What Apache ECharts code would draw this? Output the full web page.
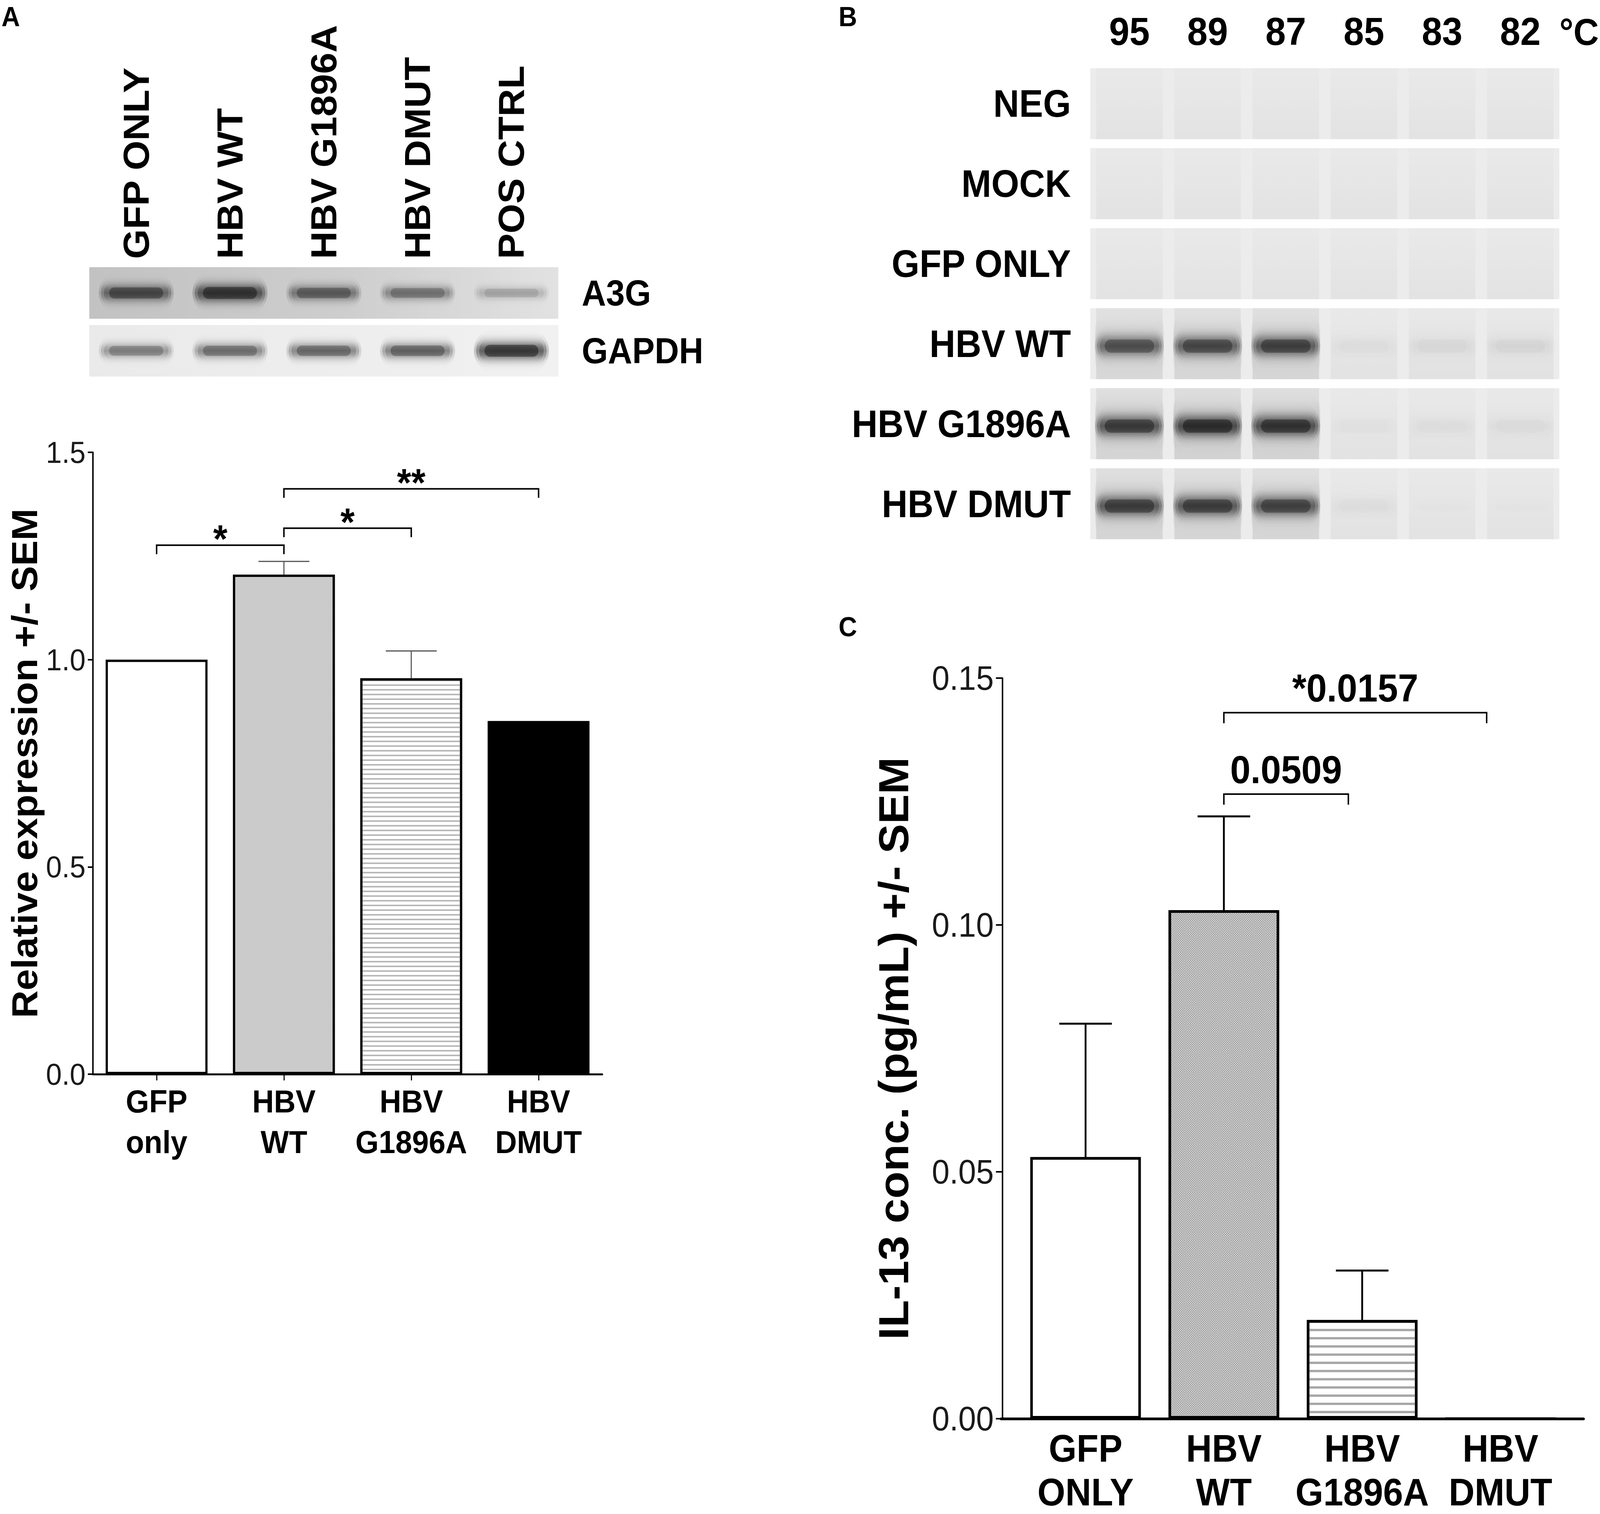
<!DOCTYPE html>
<html>
<head>
<meta charset="utf-8">
<script src="https://cdn.jsdelivr.net/npm/echarts/dist/echarts.min.js"></script>
<style>
html, body { margin: 0; padding: 0; background: #fff; overflow: hidden; }
#app { width: 4373px; height: 3876px; transform-origin: 0 0; }
</style>
</head>
<body>
<div id="app"></div>
<script>
// ---- data ----
var blotLanes = ['GFP ONLY', 'HBV WT', 'HBV G1896A', 'HBV DMUT', 'POS CTRL'];
var blotProteins = ['A3G', 'GAPDH'];
var a3gBands = [0.8, 1.0, 0.66, 0.52, 0.26];
var gapdhBands = [0.5, 0.6, 0.64, 0.68, 1.0];

var gelTemps = ['95', '89', '87', '85', '83', '82'];
var gelSamples = ['NEG', 'MOCK', 'GFP ONLY', 'HBV WT', 'HBV G1896A', 'HBV DMUT'];
var gelBands = [
    [0, 0, 0, 0, 0, 0],
    [0, 0, 0, 0, 0, 0],
    [0, 0, 0, 0, 0, 0],
    [0.7, 0.76, 0.82, 0.03, 0.05, 0.06],
    [0.86, 1.0, 0.94, 0.02, 0.03, 0.04],
    [0.84, 0.84, 0.8, 0.03, 0.01, 0.01]
];

var exprGroups = ['GFP\nonly', 'HBV\nWT', 'HBV\nG1896A', 'HBV\nDMUT'];
var exprMean = [1.0, 1.205, 0.955, 0.852];
var exprSem = [0, 0.032, 0.066, 0];
var exprSig = [[0, 1, 1.276, '*'], [1, 2, 1.317, '*'], [1, 3, 1.412, '**']];

var il13Groups = ['GFP\nONLY', 'HBV\nWT', 'HBV\nG1896A', 'HBV\nDMUT'];
var il13Mean = [0.053, 0.103, 0.020, 0];
var il13Sem = [0.027, 0.019, 0.010, 0];
var il13Sig = [[1, 2, 0.1265, '0.0509'], [1, 3, 0.143, '*0.0157']];

var FONT = '"Liberation Sans", Arial, sans-serif';
var W = 4373, H = 3876;

// stretch the 4373x3876 drawing over the viewport the browser really gives
var app = document.getElementById('app');
app.style.transform = 'scale(' + (window.innerWidth / W) + ',' + (window.innerHeight / H) + ')';

// ---- drawing helpers ----
var PROFILE = [[0, 0], [0.12, 0.08], [0.26, 0.36], [0.38, 0.78], [0.5, 1], [0.62, 0.78], [0.74, 0.36], [0.88, 0.08], [1, 0]];

function soft(rgb, peak) {
    return new echarts.graphic.LinearGradient(0, 0, 0, 1, PROFILE.map(function (s) {
        return { offset: s[0], color: 'rgba(' + rgb + ',' + (s[1] * peak).toFixed(3) + ')' };
    }));
}

// a blurred band built from nested soft rectangles, the core one also blurred by a shadow
function bandShape(cx, cy, w, h, dark) {
    var out = [];
    [[1.0, 1.25, 0.2], [0.94, 1.0, 0.3], [0.86, 0.8, 0.3]].forEach(function (f) {
        var bw = w * f[0], bh = h * f[1];
        out.push({ type: 'rect', shape: { x: cx - bw / 2, y: cy - bh / 2, width: bw, height: bh, r: bh / 2 },
                   style: { fill: soft('12,12,12', f[2] * dark) } });
    });
    var cw = w * 0.72, ch = h * 0.34;
    out.push({ type: 'rect', shape: { x: cx - cw / 2, y: cy - ch / 2, width: cw, height: ch, r: ch / 2 },
               style: { fill: 'rgba(12,12,12,' + (0.4 * dark).toFixed(3) + ')',
                        shadowBlur: 22, shadowColor: 'rgba(12,12,12,' + (0.4 * dark).toFixed(3) + ')' } });
    return out;
}

function stripRenderer(gap, fills) {
    return function (params, api) {
        var cs = params.coordSys;
        var row = api.value(1);
        var c = api.coord([0, row]);
        var h = api.size([0, 1])[1];
        return {
            type: 'rect',
            shape: { x: cs.x, y: c[1] - h / 2 + gap / 2, width: cs.width, height: h - gap },
            style: { fill: fills[row] }
        };
    };
}

function blotBandRenderer(params, api) {
    var c = api.coord([api.value(0), api.value(1)]);
    var dark = api.value(2);
    var laneW = api.size([1, 0])[0];
    return { type: 'group', children: bandShape(c[0], c[1], laneW * 0.8, 56 + 34 * dark, dark) };
}

function gelCellRenderer(params, api) {
    var c = api.coord([api.value(0), api.value(1)]);
    var dark = api.value(2);
    var sz = api.size([1, 1]);
    var laneW = sz[0], rowH = sz[1];
    var top = c[1] - rowH / 2 + 11.5, h = rowH - 23;
    var children = [{
        type: 'rect',
        shape: { x: c[0] - laneW / 2 + 16, y: top, width: laneW - 32, height: h },
        style: { fill: new echarts.graphic.LinearGradient(0, 0, 0, 1, [
            { offset: 0, color: 'rgba(0,0,0,' + (0.012 + 0.05 * dark).toFixed(3) + ')' },
            { offset: 1, color: 'rgba(0,0,0,' + (0.04 + 0.07 * dark).toFixed(3) + ')' }
        ]) }
    }];
    if (dark > 0) {
        // wide smear trailing below the band, then the band itself
        children.push({ type: 'rect', shape: { x: c[0] - laneW * 0.44, y: top + 10, width: laneW * 0.88, height: h - 14, r: 40 },
                        style: { fill: soft('40,40,40', 0.2 * dark) } });
        children = children.concat(bandShape(c[0], c[1] + 6, laneW * 0.88, 100, dark));
    }
    return { type: 'group', children: children };
}

function errorRenderer(capRatio, lineW, color) {
    return function (params, api) {
        var i = api.value(0), m = api.value(1), s = api.value(2);
        if (!(s > 0)) return null;
        var p0 = api.coord([i, m]), p1 = api.coord([i, m + s]);
        var half = api.size([1, 0])[0] * capRatio;
        var st = { stroke: color, lineWidth: lineW };
        return { type: 'group', children: [
            { type: 'line', shape: { x1: p0[0], y1: p0[1], x2: p1[0], y2: p1[1] }, style: st },
            { type: 'line', shape: { x1: p1[0] - half, y1: p1[1], x2: p1[0] + half, y2: p1[1] }, style: st }
        ] };
    };
}

function bracketRenderer(sig, o) {
    return function (params, api) {
        var b = sig[params.dataIndex];
        var pL = api.coord([b[0], b[2]]), pR = api.coord([b[1], b[2]]);
        var bw = api.size([1, 0])[0];
        var xl = pL[0], xr = pR[0] - bw * o.insetR, y = pL[1];
        return { type: 'group', children: [
            { type: 'polyline', shape: { points: [[xl, y + o.drop], [xl, y], [xr, y], [xr, y + o.drop]] },
              style: { stroke: '#000', lineWidth: o.lw, fill: null } },
            { type: 'text', x: (xl + xr) / 2, y: y + o.textDy,
              style: { text: b[3], fontSize: o.fs, fontWeight: 'bold', fontFamily: FONT, fill: '#000',
                       align: 'center', verticalAlign: 'middle' } }
        ] };
    };
}

// ---- bar fills ----
var stippleA = { symbol: 'rect', symbolSize: 1, dashArrayX: [[2, 2], [0, 2, 2, 0]], dashArrayY: [2, 0], color: '#b6b6b6' };
var stripeA = { symbol: 'rect', symbolSize: 1, dashArrayX: [10, 0], dashArrayY: [4, 8], color: '#b8b8b8' };
var stippleC = { symbol: 'rect', symbolSize: 1, dashArrayX: [[3, 3], [0, 3, 3, 0]], dashArrayY: [3, 0], color: '#9a9a9a' };
var stripeC = { symbol: 'rect', symbolSize: 1, dashArrayX: [10, 0], dashArrayY: [6, 15], color: '#a8a8a8' };

var exprStyles = [
    { color: '#fff', borderColor: '#000', borderWidth: 6 },
    { color: '#e0e0e0', borderColor: '#000', borderWidth: 6, decal: stippleA },
    { color: '#fff', borderColor: '#000', borderWidth: 6, decal: stripeA },
    { color: '#000', borderColor: '#000', borderWidth: 6 }
];
var il13Styles = [
    { color: '#fff', borderColor: '#000', borderWidth: 7 },
    { color: '#d8d8d8', borderColor: '#000', borderWidth: 7, decal: stippleC },
    { color: '#fff', borderColor: '#000', borderWidth: 7, decal: stripeC },
    { color: '#fff', borderColor: '#000', borderWidth: 7 }
];

function cellData(rows) {
    var out = [];
    rows.forEach(function (r, ri) {
        r.forEach(function (v, li) { out.push([li, ri, v]); });
    });
    return out;
}

var boldLabel = { fontFamily: FONT, fontWeight: 'bold', color: '#000' };
function ext(a, b) { return Object.assign({}, a, b); }

var chart = echarts.init(app, null, { renderer: 'svg', width: W, height: H });

var option = {
    animation: false,
    backgroundColor: '#fff',
    textStyle: { fontFamily: FONT },
    title: [
        { text: 'A', left: 4, top: 8, padding: 0, textStyle: { fontSize: 70, fontWeight: 'bold', fontFamily: FONT, color: '#000' } },
        { text: 'B', left: 2292, top: 8, padding: 0, textStyle: { fontSize: 70, fontWeight: 'bold', fontFamily: FONT, color: '#000' } },
        { text: 'C', left: 2292, top: 1570, padding: 0, textStyle: { fontSize: 70, fontWeight: 'bold', fontFamily: FONT, color: '#000' } }
    ],
    grid: [
        { left: 244, top: 676, width: 1282, height: 296, containLabel: false, outerBoundsMode: 'none' },
        { left: 2980, top: 163, width: 1282, height: 1229, containLabel: false, outerBoundsMode: 'none' },
        { left: 254, top: 1158, width: 1392, height: 1592, containLabel: false, outerBoundsMode: 'none' },
        { left: 2778, top: 1736, width: 1512, height: 1896, containLabel: false, outerBoundsMode: 'none' },
        { left: 2736, top: 1736, width: 1592, height: 1896, containLabel: false, outerBoundsMode: 'none' }
    ],
    xAxis: [
        { gridIndex: 0, type: 'category', position: 'top', data: blotLanes,
          axisLine: { show: false }, axisTick: { show: false }, splitLine: { show: false },
          axisLabel: ext(boldLabel, { interval: 0, rotate: -90, fontSize: 98, margin: 13 }) },
        { gridIndex: 1, type: 'category', position: 'top', data: gelTemps,
          axisLine: { show: false }, axisTick: { show: false }, splitLine: { show: false },
          axisLabel: ext(boldLabel, { interval: 0, fontSize: 100, margin: 33 }),
          name: '°C', nameLocation: 'end', nameGap: 0,
          nameTextStyle: ext(boldLabel, { fontSize: 96, verticalAlign: 'bottom', padding: [0, 0, 33, 0] }) },
        { gridIndex: 2, type: 'category', data: exprGroups,
          axisLine: { show: true, lineStyle: { color: '#000', width: 5 } },
          axisTick: { show: true, alignWithLabel: true, length: 16, lineStyle: { color: '#000', width: 3 } },
          splitLine: { show: false },
          axisLabel: ext(boldLabel, { interval: 0, fontSize: 82, lineHeight: 104, margin: 18 }) },
        { gridIndex: 3, type: 'category', data: il13Groups,
          axisLine: { show: false }, axisTick: { show: false }, splitLine: { show: false },
          axisLabel: ext(boldLabel, { interval: 0, fontSize: 98, lineHeight: 112, margin: 20 }) },
        { gridIndex: 4, type: 'value', min: 0, max: 1,
          axisLine: { show: true, lineStyle: { color: '#000', width: 7 } },
          axisTick: { show: false }, axisLabel: { show: false }, splitLine: { show: false } }
    ],
    yAxis: [
        { gridIndex: 0, type: 'category', position: 'right', inverse: true, data: blotProteins,
          axisLine: { show: false }, axisTick: { show: false }, splitLine: { show: false },
          axisLabel: ext(boldLabel, { fontSize: 92, margin: 64 }) },
        { gridIndex: 1, type: 'category', inverse: true, data: gelSamples,
          axisLine: { show: false }, axisTick: { show: false }, splitLine: { show: false },
          axisLabel: ext(boldLabel, { fontSize: 98, margin: 53 }) },
        { gridIndex: 2, type: 'value', min: 0, max: 1.5, interval: 0.5,
          axisLine: { show: true, lineStyle: { color: '#000', width: 4 } },
          axisTick: { show: true, length: 14, lineStyle: { color: '#000', width: 4 } },
          splitLine: { show: false },
          axisLabel: { fontFamily: FONT, fontSize: 78, color: '#1a1a1a', margin: 20,
                       formatter: function (v) { return v.toFixed(1); } },
          name: 'Relative expression +/- SEM', nameLocation: 'middle', nameGap: 138,
          nameTextStyle: ext(boldLabel, { fontSize: 98 }) },
        { gridIndex: 3, type: 'value', min: 0, max: 0.15, interval: 0.05, offset: 38,
          axisLine: { show: true, lineStyle: { color: '#000', width: 4 } },
          axisTick: { show: true, length: 18, lineStyle: { color: '#000', width: 4 } },
          splitLine: { show: false },
          axisLabel: { fontFamily: FONT, fontSize: 87, color: '#1a1a1a', margin: 24,
                       formatter: function (v) { return v.toFixed(2); } },
          name: 'IL-13 conc. (pg/mL) +/- SEM', nameLocation: 'middle', nameGap: 240,
          nameTextStyle: ext(boldLabel, { fontSize: 114 }) },
        { gridIndex: 4, type: 'value', min: 0, max: 1, show: false }
    ],
    series: [
        // panel A blot
        { type: 'custom', xAxisIndex: 0, yAxisIndex: 0, silent: true,
          renderItem: stripRenderer(16, [
              new echarts.graphic.LinearGradient(0, 0, 1, 0, [
                  { offset: 0, color: '#c2c2c2' }, { offset: 0.55, color: '#cecece' },
                  { offset: 0.78, color: '#d8d8d8' }, { offset: 1, color: '#e2e2e2' }]),
              new echarts.graphic.LinearGradient(0, 0, 1, 0, [
                  { offset: 0, color: '#eaeaea' }, { offset: 1, color: '#f1f1f1' }])
          ]),
          data: blotProteins.map(function (p, i) { return [0, i]; }) },
        { type: 'custom', xAxisIndex: 0, yAxisIndex: 0, silent: true,
          renderItem: blotBandRenderer,
          data: cellData([a3gBands, gapdhBands]) },
        // panel B gel
        { type: 'custom', xAxisIndex: 1, yAxisIndex: 1, silent: true,
          renderItem: stripRenderer(23, gelSamples.map(function () { return '#ececec'; })),
          data: gelSamples.map(function (s, i) { return [0, i]; }) },
        { type: 'custom', xAxisIndex: 1, yAxisIndex: 1, silent: true,
          renderItem: gelCellRenderer,
          data: cellData(gelBands) },
        // panel A bars
        { type: 'bar', xAxisIndex: 2, yAxisIndex: 2, barCategoryGap: '20%', silent: true,
          data: exprMean.map(function (v, i) { return { value: v, itemStyle: exprStyles[i] }; }) },
        { type: 'custom', xAxisIndex: 2, yAxisIndex: 2, silent: true,
          renderItem: errorRenderer(0.2, 3, '#555'),
          data: exprMean.map(function (m, i) { return [i, m, exprSem[i]]; }) },
        { type: 'custom', xAxisIndex: 2, yAxisIndex: 2, silent: true,
          renderItem: bracketRenderer(exprSig, { drop: 23, lw: 4, fs: 100, textDy: -16, insetR: 0 }),
          data: exprSig.map(function (b) { return [b[0], b[2]]; }) },
        // panel C bars
        { type: 'bar', xAxisIndex: 3, yAxisIndex: 3, barCategoryGap: '20%', silent: true,
          data: il13Mean.map(function (v, i) { return { value: v, itemStyle: il13Styles[i] }; }) },
        { type: 'custom', xAxisIndex: 3, yAxisIndex: 3, silent: true,
          renderItem: errorRenderer(0.19, 5, '#000'),
          data: il13Mean.map(function (m, i) { return [i, m, il13Sem[i]]; }) },
        { type: 'custom', xAxisIndex: 3, yAxisIndex: 3, silent: true,
          renderItem: bracketRenderer(il13Sig, { drop: 27, lw: 4, fs: 100, textDy: -63, insetR: 0.1 }),
          data: il13Sig.map(function (b) { return [b[0], b[2]]; }) }
    ]
};

chart.setOption(option);
</script>
</body>
</html>
